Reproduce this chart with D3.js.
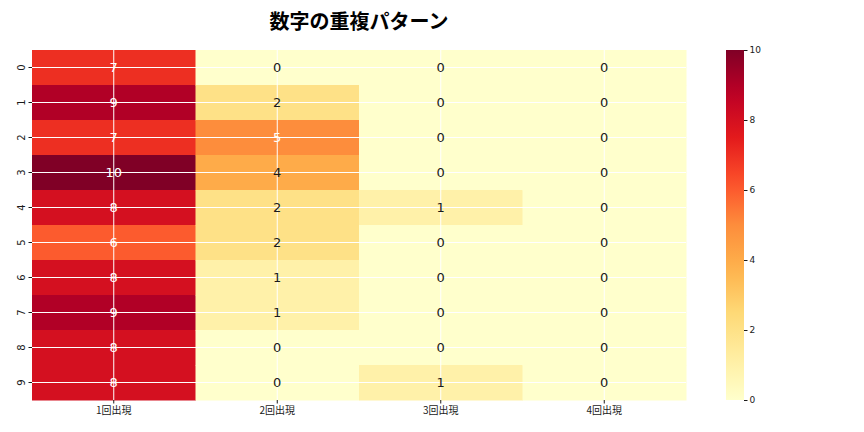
<!DOCTYPE html>
<html>
<head>
<meta charset="utf-8">
<script src="https://cdn.jsdelivr.net/npm/d3@7"></script>
<style>
  body { margin: 0; background: #fff; }
  svg { display: block; }
  text { font-family: "DejaVu Sans", "Noto Sans CJK JP", sans-serif; fill: #262626; }
</style>
</head>
<body>
<svg id="chart" width="864" height="432"></svg>
<script>
	'use strict';

	////////// Data //////////
	const rowLabels = ['0', '1', '2', '3', '4', '5', '6', '7', '8', '9'];
	const colLabels = ['1回出現', '2回出現', '3回出現', '4回出現'];
	const once   = [7, 9, 7, 10, 8, 6, 8, 9, 8, 8];
	const twice  = [0, 2, 5, 4, 2, 2, 1, 1, 0, 0];
	const thrice = [0, 0, 0, 0, 1, 0, 0, 0, 0, 1];
	const four   = [0, 0, 0, 0, 0, 0, 0, 0, 0, 0];
	const colorTicks = [0, 2, 4, 6, 8, 10];
	const title = '数字の重複パターン';

	const series = [once, twice, thrice, four];

	////////// Layout //////////
	const plot = { left: 32, right: 686, top: 50, bottom: 400 };
	const cbar = { left: 726, right: 744, top: 50, bottom: 400 };
	const textDark = '#1a1a1a';

	const svg = d3.select('#chart');

	const x = d3.scaleBand().domain(colLabels).range([plot.left, plot.right]);
	const y = d3.scaleBand().domain(rowLabels).range([plot.top, plot.bottom]);

	// matplotlib style YlOrRd: linear between the 9 brewer stops
	const stops = d3.schemeYlOrRd[9];
	const color = d3.scaleLinear()
		.domain(d3.range(9).map(i => i * 10 / 8))
		.range(stops)
		.interpolate(d3.interpolateRgb)
		.clamp(true);

	const luminance = c => {
		const rgb = d3.rgb(c);
		const lin = v => { v /= 255; return v <= 0.03928 ? v / 12.92 : Math.pow((v + 0.055) / 1.055, 2.4); };
		return 0.2126 * lin(rgb.r) + 0.7152 * lin(rgb.g) + 0.0722 * lin(rgb.b);
	};

	const cells = [];
	series.forEach((vals, ci) => vals.forEach((v, ri) => cells.push({ col: colLabels[ci], row: rowLabels[ri], value: v })));

	// cells
	svg.append('g').selectAll('rect').data(cells).join('rect')
		.attr('x', d => x(d.col))
		.attr('y', d => y(d.row))
		.attr('width', x.bandwidth() + 0.5)
		.attr('height', y.bandwidth() + 0.5)
		.attr('fill', d => color(d.value));

	// grid (white, on top of cells)
	const grid = svg.append('g').attr('stroke', '#fff').attr('stroke-width', 1);
	grid.selectAll('.hg').data(rowLabels).join('line')
		.attr('x1', plot.left).attr('x2', plot.right)
		.attr('y1', d => y(d) + y.bandwidth() / 2).attr('y2', d => y(d) + y.bandwidth() / 2);
	grid.selectAll('.vg').data(colLabels).join('line')
		.attr('y1', plot.top).attr('y2', plot.bottom)
		.attr('x1', d => x(d) + x.bandwidth() / 2).attr('x2', d => x(d) + x.bandwidth() / 2);

	// annotations
	svg.append('g').selectAll('text').data(cells).join('text')
		.attr('x', d => x(d.col) + x.bandwidth() / 2)
		.attr('y', d => y(d.row) + y.bandwidth() / 2)
		.attr('text-anchor', 'middle')
		.attr('dominant-baseline', 'central')
		.style('font-size', '13px')
		.style('fill', d => luminance(color(d.value)) < 0.408 ? '#fff' : textDark)
		.text(d => d.value);

	// x axis
	const xAxis = svg.append('g')
		.attr('transform', `translate(0,${plot.bottom})`)
		.call(d3.axisBottom(x).tickSize(3.5).tickPadding(3));
	xAxis.select('.domain').remove();
	xAxis.selectAll('line').attr('stroke', textDark);
	xAxis.selectAll('text').style('font-size', '10px').style('font-family', '"Noto Sans CJK JP", sans-serif').style('fill', textDark);

	// y axis
	const yAxis = svg.append('g')
		.attr('transform', `translate(${plot.left},0)`)
		.call(d3.axisLeft(y).tickSize(3.5).tickPadding(3));
	yAxis.select('.domain').remove();
	yAxis.selectAll('line').attr('stroke', textDark);
	yAxis.selectAll('text')
		.style('font-size', '10px')
		.style('fill', textDark)
		.attr('text-anchor', 'middle')
		.attr('dy', null)
		.attr('x', null)
		.attr('transform', 'translate(-11,0) rotate(-90)')
		.attr('dominant-baseline', 'central');

	// colorbar
	const defs = svg.append('defs');
	const grad = defs.append('linearGradient').attr('id', 'cbGrad')
		.attr('x1', 0).attr('x2', 0).attr('y1', 1).attr('y2', 0);
	grad.selectAll('stop').data(d3.range(0, 10.01, 0.5)).join('stop')
		.attr('offset', d => d / 10)
		.attr('stop-color', d => color(d));
	svg.append('rect')
		.attr('x', cbar.left).attr('y', cbar.top)
		.attr('width', cbar.right - cbar.left).attr('height', cbar.bottom - cbar.top)
		.attr('fill', 'url(#cbGrad)');
	const cy = d3.scaleLinear().domain([0, 10]).range([cbar.bottom, cbar.top]);
	const cAxis = svg.append('g')
		.attr('transform', `translate(${cbar.right},0)`)
		.call(d3.axisRight(cy).tickValues(colorTicks).tickSize(3.5).tickPadding(2));
	cAxis.select('.domain').remove();
	cAxis.selectAll('line').attr('stroke', textDark);
	cAxis.selectAll('text').style('font-size', '9px').style('fill', textDark);

	// title
	svg.append('text')
		.attr('x', (plot.left + plot.right) / 2)
		.attr('y', 29)
		.attr('text-anchor', 'middle')
		.style('font-family', '"Noto Sans CJK JP", sans-serif')
		.style('font-weight', 'bold')
		.style('font-size', '20px')
		.style('fill', '#000')
		.text(title);
</script>
</body>
</html>
